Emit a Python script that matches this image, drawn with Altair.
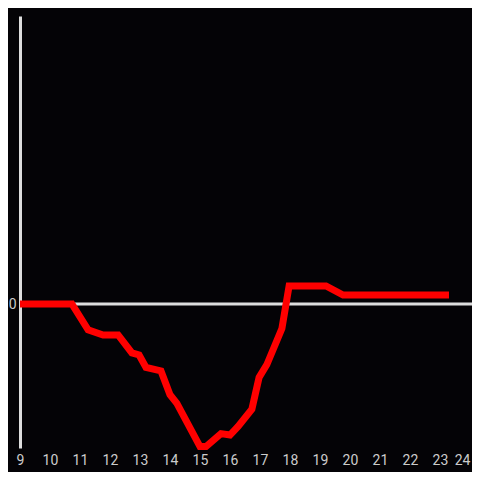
import altair as alt
import pandas as pd

hours = [9.0, 10.73, 11.27, 11.77, 12.27, 12.73, 12.97, 13.2, 13.7, 14.0, 14.23,
         15.0, 15.2, 15.7, 16.0, 16.27, 16.73, 16.97, 17.23, 17.73, 17.97,
         19.2, 19.77, 23.3]
values = [0.0, 0.0, -0.18, -0.215, -0.215, -0.34, -0.354, -0.44, -0.465, -0.63, -0.69,
          -0.99, -0.99, -0.9, -0.91, -0.85, -0.73, -0.51, -0.42, -0.17, 0.125,
          0.125, 0.0625, 0.0625]
x_ticks = list(range(9, 25))

df = pd.DataFrame({"hour": hours, "value": values})

xscale = alt.Scale(domain=[9, 24.067], nice=False, zero=False)
yscale = alt.Scale(domain=[-1, 2], nice=False, zero=False)

zero = alt.Chart(pd.DataFrame({"v": [0]})).mark_rule(
    color="#dddddd", strokeWidth=3
).encode(y=alt.Y("v:Q", scale=yscale))

line = alt.Chart(df).mark_line(color="#ff0000", strokeWidth=7, strokeJoin="miter").encode(
    x=alt.X("hour:Q", scale=xscale,
            axis=alt.Axis(values=x_ticks, title=None, domain=False, ticks=False, tickSize=0,
                          grid=False, labelPadding=5, labelColor="#cccccc", format="d",
                          labelFontSize=14, labelFont="Roboto", labelFlush=False,
                          labelAlign=alt.expr("datum.value >= 24 ? 'right' : 'center'"))),
    y=alt.Y("value:Q", scale=yscale,
            axis=alt.Axis(values=[0], title=None, domain=True, domainColor="#dddddd",
                          domainWidth=3, ticks=False, tickSize=0, grid=False, labelPadding=4,
                          format="d",
                          labelColor="#cccccc", labelFontSize=14, labelFont="Roboto")),
)

chart = alt.layer(zero, line).properties(
    width=452, height=432,
    background="#040306",
    autosize=alt.AutoSizeParams(type="none"),
    padding={"left": 12, "top": 8, "right": 0, "bottom": 24},
).configure_view(stroke=None)

chart.save("out.html", embed_options={"renderer": "svg", "actions": False})
